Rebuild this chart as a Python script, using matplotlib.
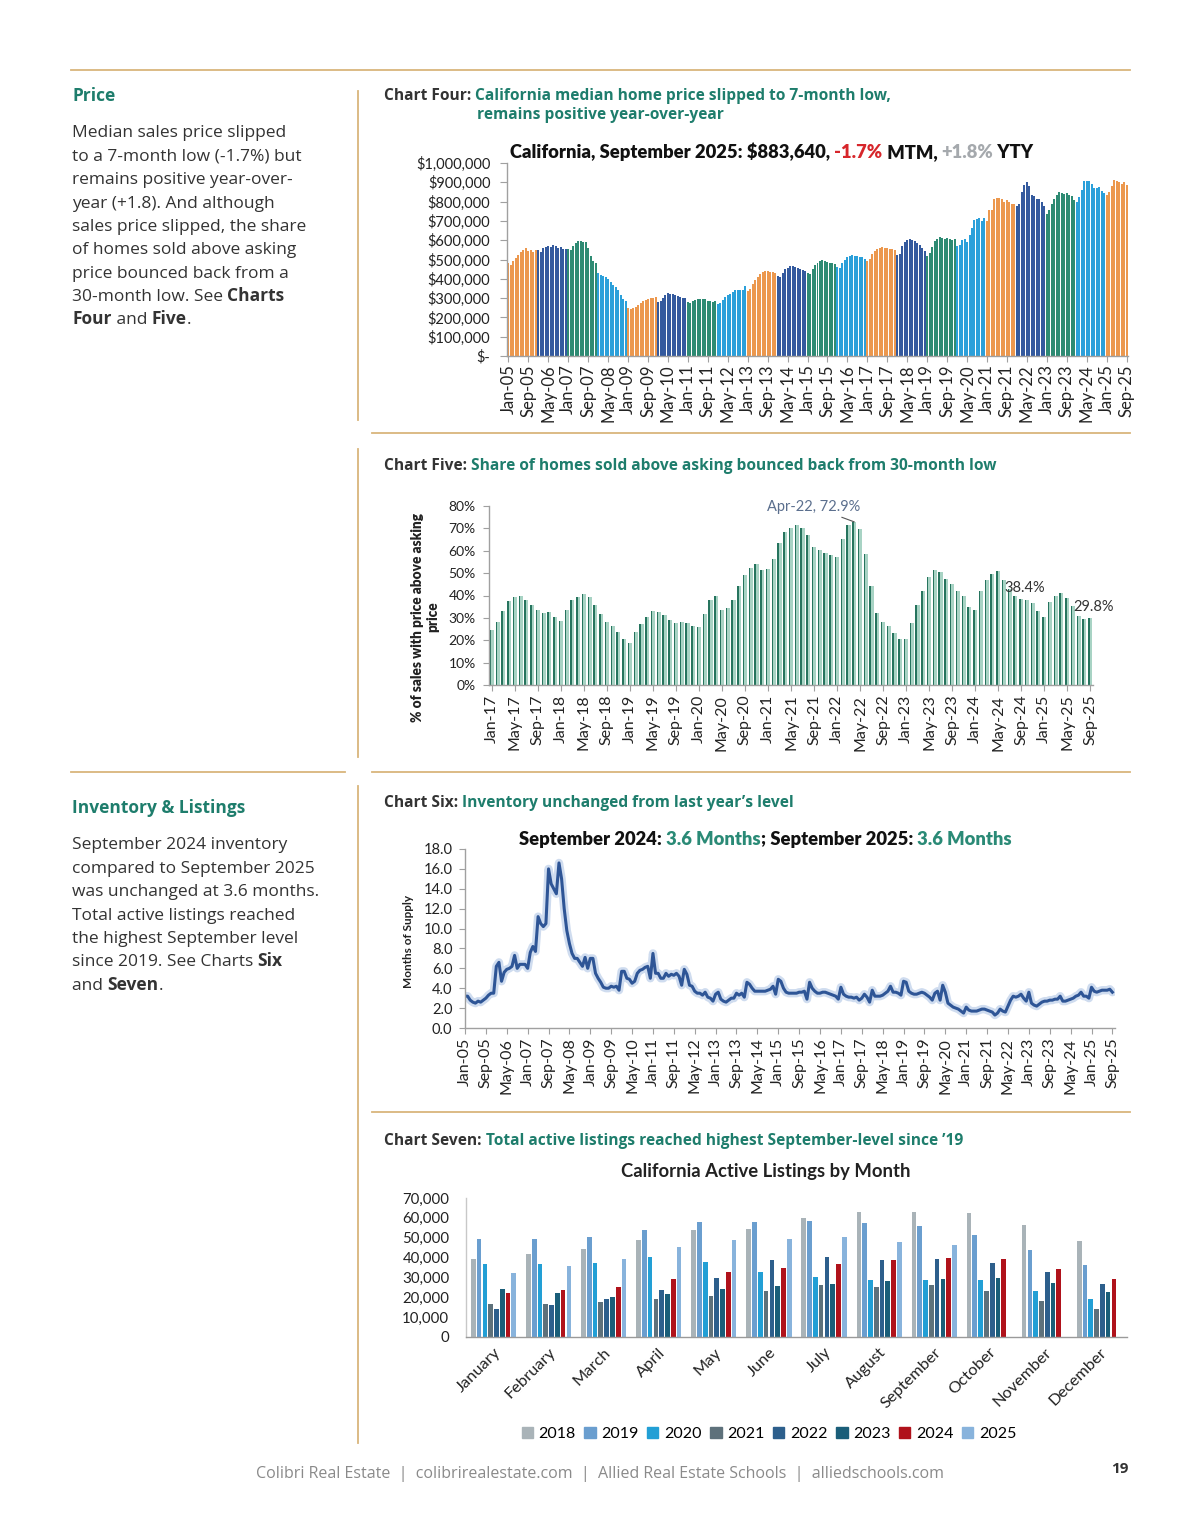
import matplotlib
matplotlib.use('Agg')
import matplotlib.pyplot as plt
import matplotlib.lines as mlines
from matplotlib.patches import Patch
import numpy as np
import pandas as pd

W, H = 1200, 1535

# ---------------- data ----------------
# Chart Four: California median home price, Jan-05 .. Sep-25 (thousand $)
median_price_k = [
    480, 470, 490, 510, 525, 540, 550, 560, 545, 550, 540, 548,  # 2005
    550, 540, 560, 565, 570, 565, 575, 570, 560, 565, 555, 555,  # 2006
    555, 550, 570, 585, 595, 594, 590, 590, 560, 520, 490, 480,  # 2007
    430, 420, 415, 410, 400, 385, 370, 355, 340, 315, 295, 285,  # 2008
    250, 245, 250, 255, 265, 275, 285, 290, 295, 298, 300, 305,  # 2009
    280, 285, 300, 315, 325, 320, 320, 315, 310, 305, 300, 300,  # 2010
    280, 275, 285, 290, 295, 295, 295, 295, 285, 285, 280, 285,  # 2011
    270, 275, 290, 305, 315, 320, 330, 340, 340, 340, 340, 365,  # 2012
    335, 345, 375, 395, 410, 425, 435, 440, 440, 435, 435, 430,  # 2013
    415, 410, 430, 450, 458, 465, 468, 460, 455, 450, 445, 440,  # 2014
    430, 425, 450, 470, 480, 490, 495, 490, 485, 480, 480, 475,  # 2015
    460, 455, 480, 500, 515, 520, 525, 520, 520, 515, 515, 505,  # 2016
    490, 505, 530, 545, 555, 560, 565, 560, 560, 555, 555, 550,  # 2017
    525, 530, 570, 590, 600, 605, 600, 595, 585, 575, 560, 545,  # 2018
    520, 535, 565, 595, 605, 615, 610, 605, 610, 605, 600, 605,  # 2019
    570, 575, 600, 605, 590, 625, 665, 705, 712, 715, 700, 715,  # 2020
    700, 758, 758, 813, 818, 819, 811, 796, 810, 800, 790, 786,  # 2021
    775, 790, 850, 885, 900, 880, 835, 830, 815, 815, 800, 775,  # 2022
    735, 755, 790, 815, 835, 850, 845, 840, 845, 835, 830, 810,  # 2023
    800, 825, 860, 905, 908, 905, 890, 870, 868, 875, 853, 845,  # 2024
    835, 850, 880, 910, 905, 900, 890, 899, 884,                 # 2025
]
price_year_colors = ['#EC984E', '#345A9E', '#2E8B73', '#2BA0DA']

# Chart Five: share of homes sold above asking, Jan-17 .. Sep-25 (%)
above_asking_pct = [
    24.4, 28.1, 33.0, 37.4, 39.2, 39.6, 38.1, 35.9, 33.3, 32.3, 32.6, 30.6,  # 2017
    28.7, 33.3, 37.8, 39.3, 40.8, 39.2, 35.7, 31.8, 28.1, 26.2, 23.6, 20.6,  # 2018
    18.7, 23.6, 27.2, 30.6, 33.2, 32.6, 31.4, 29.1, 27.7, 28.0, 27.7, 26.2,  # 2019
    25.9, 31.8, 38.1, 39.9, 33.6, 34.4, 38.1, 44.1, 49.0, 52.3, 54.3, 51.6,  # 2020
    52.0, 56.4, 63.5, 68.3, 70.3, 71.3, 70.3, 67.0, 61.7, 60.2, 59.0, 58.0,  # 2021
    57.2, 65.3, 71.3, 72.9, 69.5, 58.7, 44.4, 32.4, 28.1, 26.2, 23.2, 20.5,  # 2022
    20.5, 27.7, 35.9, 42.2, 48.3, 51.3, 50.4, 47.4, 45.3, 42.2, 39.6, 34.7,  # 2023
    33.3, 41.9, 47.1, 49.6, 51.0, 46.8, 42.9, 39.9, 38.4, 38.1, 36.6, 32.9,  # 2024
    30.2, 37.1, 39.9, 41.1, 38.9, 35.1, 30.9, 29.4, 29.8,                    # 2025
]

# Chart Six: months of supply, Jan-05 .. Sep-25
months_supply = [
    3.2, 3.2, 2.8, 2.6, 2.5, 2.7, 2.6, 2.8, 3.0, 3.3, 3.5, 3.5,        # 2005
    6.2, 6.6, 4.7, 5.6, 5.9, 6.0, 6.2, 7.3, 6.0, 6.4, 6.4, 6.4,        # 2006
    6.0, 7.6, 8.2, 7.7, 11.2, 10.5, 10.2, 10.5, 16.0, 14.5, 14.0, 13.5,  # 2007
    16.6, 15.0, 12.0, 9.8, 8.5, 7.5, 7.0, 7.0, 6.6, 6.2, 7.1, 6.0,     # 2008
    7.0, 7.0, 5.5, 5.0, 4.6, 4.1, 4.0, 4.0, 4.2, 4.1, 4.2, 3.8,        # 2009
    5.7, 5.7, 5.0, 4.9, 4.5, 4.7, 5.5, 5.8, 5.9, 6.1, 6.2, 5.0,        # 2010
    7.5, 5.5, 5.5, 5.0, 5.0, 5.5, 5.2, 5.4, 5.3, 5.5, 5.2, 4.3,        # 2011
    5.9, 5.4, 4.3, 4.2, 3.7, 3.5, 3.5, 3.3, 3.6, 3.1, 3.0, 2.7,        # 2012
    3.4, 3.6, 2.9, 2.7, 2.6, 2.8, 3.0, 3.0, 3.5, 3.3, 3.5, 3.1,        # 2013
    4.6, 4.4, 4.0, 3.7, 3.7, 3.7, 3.7, 3.7, 3.8, 3.9, 4.2, 3.4,        # 2014
    4.9, 4.7, 4.0, 3.6, 3.5, 3.5, 3.5, 3.5, 3.6, 3.6, 3.7, 2.9,        # 2015
    4.6, 4.0, 3.7, 3.5, 3.5, 3.6, 3.6, 3.5, 3.4, 3.3, 3.2, 2.9,        # 2016
    4.1, 3.4, 3.2, 3.1, 3.1, 3.0, 3.1, 2.8, 3.0, 3.4, 3.1, 2.6,        # 2017
    3.8, 3.2, 3.2, 3.2, 3.3, 3.5, 3.7, 4.2, 3.6, 3.6, 3.5, 3.3,        # 2018
    4.7, 4.6, 3.7, 3.5, 3.4, 3.4, 3.5, 3.6, 3.5, 3.3, 3.1, 2.8,        # 2019
    3.5, 3.7, 2.8, 4.3, 3.6, 2.5, 2.3, 2.1, 2.0, 1.9, 1.7, 1.5,        # 2020
    2.1, 1.8, 1.7, 1.7, 1.7, 1.8, 1.9, 1.9, 1.8, 1.7, 1.6, 1.3,        # 2021
    1.5, 1.9, 1.7, 1.6, 2.2, 2.8, 3.2, 3.1, 3.2, 3.4, 3.0, 2.7,        # 2022
    3.6, 2.5, 2.3, 2.2, 2.4, 2.6, 2.7, 2.7, 2.8, 2.8, 2.9, 2.9,        # 2023
    3.2, 2.7, 2.7, 2.8, 2.9, 3.0, 3.2, 3.3, 3.6, 3.2, 3.2, 3.0,        # 2024
    4.1, 3.7, 3.6, 3.7, 3.8, 3.8, 3.8, 3.9, 3.6,                       # 2025
]

# Chart Seven: active listings by month (thousands)
month_names = ['January', 'February', 'March', 'April', 'May', 'June', 'July',
               'August', 'September', 'October', 'November', 'December']
listing_years = ['2018', '2019', '2020', '2021', '2022', '2023', '2024', '2025']
listings_2018 = [39.1, 41.7, 44.5, 48.9, 53.8, 54.3, 59.7, 63.1, 63.1, 62.4, 56.3, 48.1]
listings_2019 = [49.3, 49.3, 50.4, 54.0, 58.0, 58.0, 58.5, 57.3, 55.7, 51.3, 43.7, 36.1]
listings_2020 = [36.6, 36.9, 37.4, 40.3, 38.0, 32.6, 30.4, 28.5, 28.5, 28.5, 23.4, 18.9]
listings_2021 = [16.7, 16.7, 17.7, 19.2, 20.6, 23.3, 26.0, 25.3, 26.0, 23.1, 18.0, 14.3]
listings_2022 = [14.3, 16.0, 19.2, 23.6, 29.9, 38.6, 40.3, 38.6, 39.5, 37.4, 32.7, 26.5]
listings_2023 = [24.0, 22.3, 20.1, 21.8, 24.0, 25.6, 26.5, 28.2, 29.0, 29.9, 27.0, 22.6]
listings_2024 = [22.3, 23.6, 25.3, 29.0, 32.9, 34.9, 36.9, 39.0, 40.0, 39.1, 34.4, 29.0]
listings_2025 = [32.4, 35.8, 39.1, 45.4, 48.7, 49.6, 50.6, 47.9, 46.2, np.nan, np.nan, np.nan]
listing_colors = ['#A9B3B8', '#6A9ECF', '#229FD5', '#5E717B', '#2D5F8C', '#1A5E79', '#B0121B', '#88B3DC']

# ---------------- styling ----------------
RULE = '#D9B57C'
TEAL = '#1E7D6C'
BODY = '#333333'
AXC = '#A0A0A0'
BODY_FONT = 'Open Sans'
CHART_FONT = 'Lato'

fig = plt.figure(figsize=(W / 100, H / 100), dpi=100)
renderer = fig.canvas.get_renderer()


def axes_px(left, top, right, bottom):
    return fig.add_axes([left / W, 1 - bottom / H, (right - left) / W, (bottom - top) / H])


def hline(x0, x1, y):
    fig.add_artist(mlines.Line2D([x0 / W, x1 / W], [1 - y / H] * 2, color=RULE, lw=1.3))


def vline(x, y0, y1):
    fig.add_artist(mlines.Line2D([x / W] * 2, [1 - y0 / H, 1 - y1 / H], color=RULE, lw=1.3))


def advance(s, props):
    a = fig.text(0, 0, s + '|', **props)
    b = fig.text(0, 0, '|', **props)
    w = a.get_window_extent(renderer).width - b.get_window_extent(renderer).width
    a.remove()
    b.remove()
    return w


def rich(x, y, pieces, size, family):
    # pieces: (text, colour, weight) drawn one after another on a baseline
    for s, color, weight in pieces:
        props = dict(color=color, fontsize=size, fontweight=weight, family=family)
        fig.text(x / W, 1 - y / H, s, va='baseline', ha='left', **props)
        x += advance(s, props)


def style_axes(ax):
    for side in ['top', 'right']:
        ax.spines[side].set_visible(False)
    for side in ['left', 'bottom']:
        ax.spines[side].set_color(AXC)
        ax.spines[side].set_linewidth(1.0)
    ax.tick_params(color=AXC, labelcolor='#222222')
    for lab in ax.get_xticklabels() + ax.get_yticklabels():
        lab.set_family(CHART_FONT)


# ---------------- page frame ----------------
hline(71, 1130, 70)
vline(358, 91, 420)
hline(372, 1130, 433)
vline(358, 449, 757)
hline(71, 345, 772)
hline(372, 1130, 772)
vline(358, 786, 1443)
hline(372, 1130, 1112)

# left column text
rich(72, 101, [('Price', TEAL, 'bold')], 12.5, BODY_FONT)
price_lines = [
    [('Median sales price slipped', BODY, 'normal')],
    [('to a 7-month low (-1.7%) but', BODY, 'normal')],
    [('remains positive year-over-', BODY, 'normal')],
    [('year (+1.8). And although', BODY, 'normal')],
    [('sales price slipped, the share', BODY, 'normal')],
    [('of homes sold above asking', BODY, 'normal')],
    [('price bounced back from a', BODY, 'normal')],
    [('30-month low. See ', BODY, 'normal'), ('Charts', BODY, 'bold')],
    [('Four', BODY, 'bold'), (' and ', BODY, 'normal'), ('Five', BODY, 'bold'), ('.', BODY, 'normal')],
]
for i, line in enumerate(price_lines):
    rich(72, 137.3 + 23.4 * i, line, 12.5, BODY_FONT)

rich(72, 813, [('Inventory & Listings', TEAL, 'bold')], 12.5, BODY_FONT)
inv_lines = [
    [('September 2024 inventory', BODY, 'normal')],
    [('compared to September 2025', BODY, 'normal')],
    [('was unchanged at 3.6 months.', BODY, 'normal')],
    [('Total active listings reached', BODY, 'normal')],
    [('the highest September level', BODY, 'normal')],
    [('since 2019. See Charts ', BODY, 'normal'), ('Six', BODY, 'bold')],
    [('and ', BODY, 'normal'), ('Seven', BODY, 'bold'), ('.', BODY, 'normal')],
]
for i, line in enumerate(inv_lines):
    rich(72, 849.3 + 23.4 * i, line, 12.5, BODY_FONT)

# chart headings
HEAD = 11.2
rich(384, 100, [('Chart Four: ', '#333333', 'bold'),
                ('California median home price slipped to 7-month low,', TEAL, 'bold')], HEAD, BODY_FONT)
rich(477, 119, [('remains positive year-over-year', TEAL, 'bold')], HEAD, BODY_FONT)
rich(384, 470, [('Chart Five: ', '#333333', 'bold'),
                ('Share of homes sold above asking bounced back from 30-month low', TEAL, 'bold')], HEAD, BODY_FONT)
rich(384, 807, [('Chart Six: ', '#333333', 'bold'),
                ('Inventory unchanged from last year\u2019s level', TEAL, 'bold')], HEAD, BODY_FONT)
rich(384, 1145, [('Chart Seven: ', '#333333', 'bold'),
                 ('Total active listings reached highest September-level since \u201919', TEAL, 'bold')], HEAD, BODY_FONT)

# ---------------- Chart Four ----------------
months_a = pd.date_range('2005-01-01', periods=len(median_price_k), freq='MS')
idx_a = np.arange(len(months_a))
ax4 = axes_px(507, 163, 1128, 356)
bar_cols = [price_year_colors[(d.year - 2005) % 4] for d in months_a]
ax4.bar(idx_a, np.array(median_price_k) * 1000, width=0.8, color=bar_cols, linewidth=0)
ax4.set_xlim(-0.6, len(idx_a) - 0.4)
ax4.set_ylim(0, 1_000_000)
yt = list(range(0, 1_000_001, 100_000))
ax4.set_yticks(yt)
ax4.set_yticklabels(['$-'] + [f'${v:,}' for v in yt[1:]])
ax4.set_xticks(idx_a[::8])
ax4.set_xticklabels(months_a[::8].strftime('%b-%y'), rotation=90)
ax4.tick_params(axis='y', length=5, pad=7, labelsize=10.5)
ax4.tick_params(axis='x', length=4, pad=2, labelsize=12)
style_axes(ax4)
rich(510, 158, [('California, September 2025: $883,640, ', '#111111', 'heavy'),
                ('-1.7%', '#D7262B', 'heavy'), (' MTM, ', '#111111', 'heavy'),
                ('+1.8%', '#A5A9AD', 'heavy'), (' YTY', '#111111', 'heavy')], 13.2, CHART_FONT)

# ---------------- Chart Five ----------------
months_b = pd.date_range('2017-01-01', periods=len(above_asking_pct), freq='MS')
idx_b = np.arange(len(months_b))
ax5 = axes_px(489, 506, 1093, 685)
ax5.bar(idx_b, above_asking_pct, width=0.72, color='#A8D3C4', linewidth=0)
ax5.bar(idx_b - 0.36, above_asking_pct, width=0.26, align='edge', color='#26745E', linewidth=0)
ax5.set_xlim(-0.5, len(idx_b) - 0.5)
ax5.set_ylim(0, 80)
ax5.set_yticks(range(0, 81, 10))
ax5.set_yticklabels([f'{v}%' for v in range(0, 81, 10)])
ax5.set_xticks(idx_b[::4])
ax5.set_xticklabels(months_b[::4].strftime('%b-%y'), rotation=90)
ax5.tick_params(axis='y', length=4.5, pad=5, labelsize=10)
ax5.tick_params(axis='x', length=4, pad=3, labelsize=11.5)
style_axes(ax5)
peak = int(np.argmax(above_asking_pct))
ax5.annotate(f'{months_b[peak].strftime("%b-%y")}, {above_asking_pct[peak]}%',
             xy=(peak, above_asking_pct[peak]), xytext=(814, H - 507), textcoords='figure pixels',
             ha='center', va='center', color='#5B6F8E', fontsize=10.5, family=CHART_FONT,
             annotation_clip=False,
             arrowprops=dict(arrowstyle='-', color='#555555', lw=0.8, shrinkA=1, shrinkB=0))
fig.text(1004 / W, 1 - 588 / H, f'{above_asking_pct[92]}%', ha='left', va='center',
         fontsize=10.5, family=CHART_FONT, color='#333333')
fig.text(1073 / W, 1 - 607 / H, f'{above_asking_pct[-1]}%', ha='left', va='center',
         fontsize=10.5, family=CHART_FONT, color='#333333')
fig.text(418 / W, 1 - 617 / H, '% of sales with price above asking', rotation=90,
         ha='center', va='center', fontsize=9.8, fontweight='heavy', family=CHART_FONT, color='#222222')
fig.text(433 / W, 1 - 617 / H, 'price', rotation=90,
         ha='center', va='center', fontsize=9.8, fontweight='heavy', family=CHART_FONT, color='#222222')

# ---------------- Chart Six ----------------
ax6 = axes_px(465, 849, 1115, 1028)
ax6.plot(idx_a, months_supply, color='#A9C0E2', lw=6, alpha=0.55, solid_capstyle='round')
ax6.plot(idx_a, months_supply, color='#2E5596', lw=2.2)
ax6.set_xlim(0, len(idx_a))
ax6.set_ylim(0, 18)
ax6.set_yticks(np.arange(0, 18.1, 2))
ax6.set_yticklabels([f'{v:.1f}' for v in np.arange(0, 18.1, 2)])
ax6.set_xticks(idx_a[::8])
ax6.set_xticklabels(months_a[::8].strftime('%b-%y'), rotation=90)
ax6.tick_params(axis='y', length=4, pad=5, labelsize=10.5)
ax6.tick_params(axis='x', length=4, pad=3, labelsize=11.5)
style_axes(ax6)
rich(519, 845, [('September 2024: ', '#111111', 'heavy'), ('3.6 Months', '#2A8A76', 'heavy'),
                ('; September 2025: ', '#111111', 'heavy'), ('3.6 Months', '#2A8A76', 'heavy')], 13.2, CHART_FONT)
fig.text(408 / W, 1 - 941 / H, 'Months of Supply', rotation=90, ha='center', va='center',
         fontsize=8.5, fontweight='bold', family=CHART_FONT, color='#222222')

# ---------------- Chart Seven ----------------
ax7 = axes_px(466, 1198, 1127, 1337)
series7 = [listings_2018, listings_2019, listings_2020, listings_2021,
           listings_2022, listings_2023, listings_2024, listings_2025]
pos = np.arange(len(month_names))
pitch = 0.105
for i, (yr, vals, c) in enumerate(zip(listing_years, series7, listing_colors)):
    ax7.bar(pos + (i - 3.5) * pitch, np.array(vals) * 1000, width=0.085, color=c, linewidth=0, label=yr)
ax7.set_xlim(-0.5, len(month_names) - 0.5)
ax7.set_ylim(0, 70000)
ax7.set_yticks(range(0, 70001, 10000))
ax7.set_yticklabels([f'{v:,}' for v in range(0, 70001, 10000)])
ax7.set_xticks(pos)
ax7.set_xticklabels(month_names, rotation=45, ha='right', rotation_mode='anchor')
ax7.tick_params(axis='y', length=0, pad=12, labelsize=10.8, labelcolor='#111111')
ax7.tick_params(axis='x', length=0, pad=6, labelsize=11.8, labelcolor='#111111')
style_axes(ax7)
ax7.spines['left'].set_color('#C8C8C8')
ax7.spines['bottom'].set_color('#9A9A9A')
fig.text(766 / W, 1 - 1171 / H, 'California Active Listings by Month', ha='center', va='center',
         fontsize=13.3, fontweight='bold', family=CHART_FONT, color='#222222')
handles = [Patch(color=c, label=y) for y, c in zip(listing_years, listing_colors)]
fig.legend(handles=handles, loc='center', bbox_to_anchor=(769 / W, 1 - 1434 / H), ncol=8,
           frameon=False, handlelength=0.7, handleheight=0.7, handletextpad=0.35,
           columnspacing=0.55, prop={'family': CHART_FONT, 'size': 11.5})

# ---------------- footer ----------------
fig.text(600 / W, 1 - 1474 / H,
         'Colibri Real Estate  |  colibrirealestate.com  |  Allied Real Estate Schools  |  alliedschools.com',
         ha='center', va='center', fontsize=11.5, family=BODY_FONT, color='#8A8A8A')
fig.text(1120 / W, 1 - 1469 / H, '19', ha='center', va='center', fontsize=11,
         fontweight='bold', family=BODY_FONT, color='#333333')

fig.savefig('out.png', dpi=100)
